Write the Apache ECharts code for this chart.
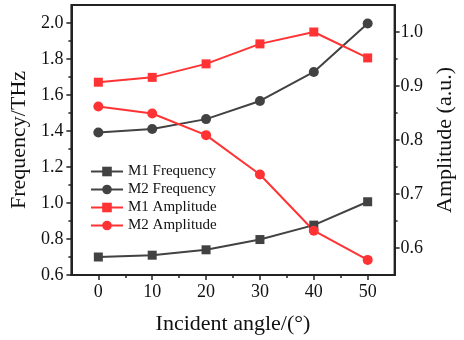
<!DOCTYPE html>
<html>
<head>
<meta charset="utf-8">
<script src="https://cdn.jsdelivr.net/npm/echarts@6/dist/echarts.min.js"></script>
<style>
  html, body { margin: 0; padding: 0; background: #fff; }
  #chart { width: 464px; height: 340px; }
</style>
</head>
<body>
<div id="chart"></div>
<script>
// data
const angles = [0, 10, 20, 30, 40, 50];
const m1Freq = [0.70, 0.71, 0.74, 0.797, 0.877, 1.007];
const m2Freq = [1.392, 1.411, 1.466, 1.567, 1.728, 1.997];
const m1Amp = [0.907, 0.916, 0.941, 0.978, 1.0, 0.952];
const m2Amp = [0.862, 0.849, 0.809, 0.736, 0.632, 0.578];

const xTicks = [0, 10, 20, 30, 40, 50];
const xMinor = [5, 15, 25, 35, 45];
const freqTicks = [0.6, 0.8, 1.0, 1.2, 1.4, 1.6, 1.8, 2.0];
const freqMinor = [0.7, 0.9, 1.1, 1.3, 1.5, 1.7, 1.9];
const ampTicks = [0.6, 0.7, 0.8, 0.9, 1.0];
const ampMinor = [0.65, 0.75, 0.85, 0.95];

const font = "Liberation Serif";
const axisColor = "#222";
const gray = "#424242";
const red = "#ff3333";

const pairs = (ys) => angles.map((a, i) => [a, ys[i]]);

function mainAxis(extra) {
    return Object.assign({
        type: "value",
        axisLine: { show: true, onZero: false, lineStyle: { color: axisColor, width: 2 } },
        splitLine: { show: false },
        nameTextStyle: { color: "#111", fontFamily: font, fontSize: 22 },
    }, extra);
}
function minorAxis(extra, values) {
    return Object.assign({
        type: "value",
        axisLine: { show: false, onZero: false },
        axisTick: { show: true, inside: false, length: 3, customValues: values, lineStyle: { color: axisColor, width: 1.5 } },
        axisLabel: { show: false },
        splitLine: { show: false },
    }, extra);
}
function ticks(values) {
    return { show: true, inside: false, length: 5, customValues: values, lineStyle: { color: axisColor, width: 1.5 } };
}
function labels(values, margin, fmt) {
    return { color: "#111", fontFamily: font, fontSize: 18, margin: margin, customValues: values, formatter: fmt };
}

const chart = echarts.init(document.getElementById("chart"));
const option = {
    animation: false,
    grid: {
        left: 63, right: 65, top: 5, bottom: 64,
        show: true, borderColor: axisColor, borderWidth: 2,
    },
    legend: {
        orient: "vertical",
        left: 85, top: 159,
        itemWidth: 32, itemHeight: 12,
        itemGap: 3,
        textStyle: { fontFamily: font, fontSize: 15, color: "#111" },
        data: ["M1 Frequency", "M2 Frequency", "M1 Amplitude", "M2 Amplitude"],
    },
    xAxis: [
        mainAxis({
            min: -5, max: 55, position: "bottom",
            name: "Incident angle/(°)", nameLocation: "middle", nameGap: 38,
            axisTick: ticks(xTicks),
            axisLabel: labels(xTicks, 8, (v) => String(v)),
        }),
        minorAxis({ min: -5, max: 55, position: "bottom" }, xMinor),
    ],
    yAxis: [
        mainAxis({
            min: 0.6, max: 2.1, position: "left",
            name: "Frequency/THz", nameLocation: "middle", nameGap: 37, nameRotate: 90,
            axisTick: ticks(freqTicks),
            axisLabel: labels(freqTicks, 8, (v) => v.toFixed(1)),
        }),
        minorAxis({ min: 0.6, max: 2.1, position: "left" }, freqMinor),
        mainAxis({
            min: 0.55, max: 1.05, position: "right",
            name: "Amplitude (a.u.)", nameLocation: "middle", nameGap: 38, nameRotate: 90,
            axisTick: ticks(ampTicks),
            axisLabel: labels(ampTicks, 6, (v) => v.toFixed(1)),
        }),
        minorAxis({ min: 0.55, max: 1.05, position: "right" }, ampMinor),
    ],
    series: [
        {
            name: "M1 Frequency", type: "line", yAxisIndex: 0,
            symbol: "rect", symbolSize: 9,
            lineStyle: { color: gray, width: 2 }, itemStyle: { color: gray },
            data: pairs(m1Freq),
        },
        {
            name: "M2 Frequency", type: "line", yAxisIndex: 0,
            symbol: "circle", symbolSize: 10,
            lineStyle: { color: gray, width: 2 }, itemStyle: { color: gray },
            data: pairs(m2Freq),
        },
        {
            name: "M1 Amplitude", type: "line", yAxisIndex: 2,
            symbol: "rect", symbolSize: 9,
            lineStyle: { color: red, width: 2 }, itemStyle: { color: red },
            data: pairs(m1Amp),
        },
        {
            name: "M2 Amplitude", type: "line", yAxisIndex: 2,
            symbol: "circle", symbolSize: 10,
            lineStyle: { color: red, width: 2 }, itemStyle: { color: red },
            data: pairs(m2Amp),
        },
    ],
};
chart.setOption(option);
</script>
</body>
</html>
